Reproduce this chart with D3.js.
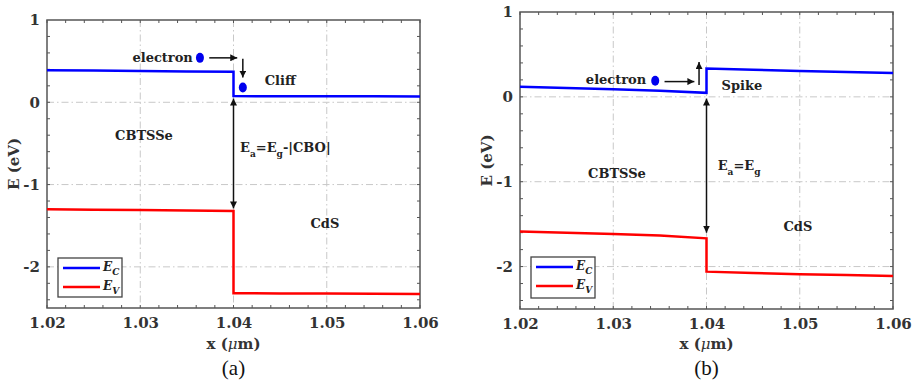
<!DOCTYPE html>
<html><head><meta charset="utf-8">
<script src="https://cdn.jsdelivr.net/npm/d3@7"></script>
<style>
html,body{margin:0;padding:0;background:#fff;}
svg{display:block;}
</style></head>
<body>
<svg id="c" width="918" height="384"></svg>
<script>
// ---- data ----
const xTicks = [1.02, 1.03, 1.04, 1.05, 1.06];
const yTicks = [1, 0, -1, -2];
const xPos = [1.02, 1.025, 1.03, 1.035, 1.04, 1.04, 1.045, 1.05, 1.055, 1.06];
// panel (a) - cliff
const ecA = [0.39, 0.385, 0.38, 0.375, 0.37, 0.075, 0.074, 0.073, 0.072, 0.07];
const evA = [-1.30, -1.305, -1.31, -1.315, -1.32, -2.32, -2.323, -2.325, -2.328, -2.33];
// panel (b) - spike
const ecB = [0.118, 0.105, 0.09, 0.072, 0.047, 0.333, 0.32, 0.306, 0.293, 0.28];
const evB = [-1.588, -1.60, -1.615, -1.635, -1.667, -2.06, -2.077, -2.09, -2.10, -2.11];
const seriesNames = ["C", "V"];
const panelLabels = ["(a)", "(b)"];

const svg = d3.select("#c");
const defs = svg.append("defs");
defs.append("marker").attr("id","ah").attr("viewBox","0 0 10 10").attr("refX",10).attr("refY",5)
  .attr("markerWidth",7).attr("markerHeight",7).attr("markerUnits","userSpaceOnUse").attr("orient","auto-start-reverse")
  .append("path").attr("d","M0,0 L10,5 L0,10 Z").attr("fill","#111");

const FONT = "'DejaVu Serif', serif";

const panels = [
  {box:{l:47,r:420,t:20,b:308}, ec:ecA, ev:evA, label:panelLabels[0], ylabX:14,
   legend:{x0:58,x1:122,y0:258,y1:297},
   ann:{elText:[1.0324,0.55], dot1:[1.0364,0.54], hArrow:[1.0374,1.0404,0.54],
        vArrow:[1.0410,0.53,0.30], dot2:[1.0410,0.18], word:"Cliff", wordPos:[1.0450,0.26],
        cb:[1.0304,-0.40], dbl:[1.04,0.045,-1.29], eqPos:[1.0407,-0.60], cbo:true, cds:[1.0498,-1.47]}},
  {box:{l:520,r:893,t:12,b:309}, ec:ecB, ev:evB, label:panelLabels[1], ylabX:487,
   legend:{x0:531,x1:595,y0:257,y1:298},
   ann:{elText:[1.0303,0.20], dot1:[1.0345,0.19], hArrow:[1.0355,1.0387,0.18],
        vArrow:[1.0392,0.14,0.41], dot2:null, word:"Spike", wordPos:[1.0438,0.13],
        cb:[1.0304,-0.90], dbl:[1.04,-0.02,-1.60], eqPos:[1.0412,-0.86], cbo:false, cds:[1.0498,-1.53]}}
];

panels.forEach(p => {
  const b = p.box;
  const x = d3.scaleLinear().domain([1.02,1.06]).range([b.l,b.r]);
  const y = d3.scaleLinear().domain([-2.5,1]).range([b.b,b.t]);
  const g = svg.append("g");

  // grid
  const dash = "7,3,1.5,3";
  g.selectAll(".gx").data(xTicks.slice(1,-1)).join("line")
    .attr("x1",d=>x(d)).attr("x2",d=>x(d)).attr("y1",b.t).attr("y2",b.b)
    .attr("stroke","#c8c8c8").attr("stroke-width",1).attr("stroke-dasharray",dash);
  g.selectAll(".gy").data(yTicks.slice(1)).join("line")
    .attr("y1",d=>y(d)).attr("y2",d=>y(d)).attr("x1",b.l).attr("x2",b.r)
    .attr("stroke","#c8c8c8").attr("stroke-width",1).attr("stroke-dasharray",dash);

  // minor ticks inside, all sides
  const xMin = d3.range(1.02,1.0601,0.002);
  const yMin = d3.range(-2.4,0.9999,0.2);
  const tk = g.append("g").attr("stroke","#555").attr("stroke-width",1);
  xMin.forEach(v=>{
    const L = 3;
    tk.append("line").attr("x1",x(v)).attr("x2",x(v)).attr("y1",b.b).attr("y2",b.b-L);
    tk.append("line").attr("x1",x(v)).attr("x2",x(v)).attr("y1",b.t).attr("y2",b.t+L);
  });
  yMin.forEach(v=>{
    const L = 3;
    tk.append("line").attr("y1",y(v)).attr("y2",y(v)).attr("x1",b.l).attr("x2",b.l+L);
    tk.append("line").attr("y1",y(v)).attr("y2",y(v)).attr("x1",b.r).attr("x2",b.r-L);
  });

  // axes (labels via d3 axes)
  const xa = g.append("g").attr("transform",`translate(0,${b.b})`)
    .call(d3.axisBottom(x).tickValues(xTicks).tickFormat(d3.format(".2f")).tickSize(0).tickPadding(9));
  const ya = g.append("g").attr("transform",`translate(${b.l},0)`)
    .call(d3.axisLeft(y).tickValues(yTicks).tickFormat(d=>String(d)).tickSize(0).tickPadding(7));
  [xa,ya].forEach(a=>{
    a.select(".domain").remove();
    a.selectAll("text").attr("font-family",FONT).attr("font-weight","bold").attr("font-size",15).attr("fill","#333");
  });

  // frame
  g.append("rect").attr("x",b.l).attr("y",b.t).attr("width",b.r-b.l).attr("height",b.b-b.t)
    .attr("fill","none").attr("stroke","#555").attr("stroke-width",1.5);

  // lines
  const line = d3.line().x((d,i)=>x(xPos[i])).y(d=>y(d));
  g.append("path").datum(p.ec).attr("d",line).attr("fill","none").attr("stroke","#0000ff").attr("stroke-width",2.5);
  g.append("path").datum(p.ev).attr("d",line).attr("fill","none").attr("stroke","#ff0000").attr("stroke-width",2.5);

  // axis titles
  const xt = g.append("text").attr("x",(b.l+b.r)/2).attr("y",349).attr("text-anchor","middle")
    .attr("font-family",FONT).attr("font-weight","bold").attr("font-size",15).attr("fill","#333");
  xt.append("tspan").text("x (");
  xt.append("tspan").attr("font-style","italic").attr("font-weight","normal").text("μ");
  xt.append("tspan").text("m)");
  g.append("text").attr("transform",`translate(${p.ylabX},${(b.t+b.b)/2}) rotate(-90)`)
    .attr("text-anchor","middle").attr("dominant-baseline","central")
    .attr("font-family",FONT).attr("font-weight","bold").attr("font-size",15).attr("fill","#333").text("E (eV)");
  g.append("text").attr("x",(b.l+b.r)/2).attr("y",375).attr("text-anchor","middle")
    .attr("font-family","'Liberation Serif', serif").attr("font-size",21).attr("fill","#111").text(p.label);

  // annotations
  const a = p.ann;
  const txt = (pos, s, anchor) => g.append("text").attr("x",x(pos[0])).attr("y",y(pos[1]))
    .attr("text-anchor",anchor||"middle").attr("dominant-baseline","central")
    .attr("font-family",FONT).attr("font-weight","bold").attr("font-size",13).attr("fill","#222").text(s);
  txt(a.elText,"electron");
  g.append("ellipse").attr("cx",x(a.dot1[0])).attr("cy",y(a.dot1[1])).attr("rx",4).attr("ry",5).attr("fill","#0000ee");
  if (a.dot2) g.append("ellipse").attr("cx",x(a.dot2[0])).attr("cy",y(a.dot2[1])).attr("rx",4).attr("ry",5).attr("fill","#0000ee");
  const arrow = (x1,y1,x2,y2,both) => {
    const l = g.append("line").attr("x1",x1).attr("y1",y1).attr("x2",x2).attr("y2",y2)
      .attr("stroke","#111").attr("stroke-width",1.5).attr("marker-end","url(#ah)");
    if (both) l.attr("marker-start","url(#ah)");
  };
  arrow(x(a.hArrow[0]),y(a.hArrow[2]),x(a.hArrow[1]),y(a.hArrow[2]));
  arrow(x(a.vArrow[0]),y(a.vArrow[1]),x(a.vArrow[0]),y(a.vArrow[2]));
  arrow(x(a.dbl[0]),y(a.dbl[1]),x(a.dbl[0]),y(a.dbl[2]),true);
  txt(a.wordPos,a.word);
  txt(a.cb,"CBTSSe");
  txt(a.cds,"CdS");
  const eq = g.append("text").attr("x",x(a.eqPos[0])).attr("y",y(a.eqPos[1]))
    .attr("font-family",FONT).attr("font-weight","bold").attr("font-size",13).attr("fill","#222");
  eq.append("tspan").text("E");
  eq.append("tspan").attr("font-size",9).attr("dy",5).text("a");
  eq.append("tspan").attr("dy",-5).text("=E");
  eq.append("tspan").attr("font-size",9).attr("dy",5).text("g");
  if (a.cbo) eq.append("tspan").attr("dy",-5).text("-|CBO|");

  // legend
  const L = p.legend;
  g.append("rect").attr("x",L.x0).attr("y",L.y0).attr("width",L.x1-L.x0).attr("height",L.y1-L.y0)
    .attr("fill","#fff").attr("stroke","#444").attr("stroke-width",1.3);
  const cols = ["#0000ff","#ff0000"];
  seriesNames.forEach((s,i)=>{
    const yy = L.y0 + 10 + i*19;
    g.append("line").attr("x1",L.x0+5).attr("x2",L.x0+42).attr("y1",yy).attr("y2",yy)
      .attr("stroke",cols[i]).attr("stroke-width",2.5);
    const t = g.append("text").attr("x",L.x0+45).attr("y",yy+3)
      .attr("font-family",FONT).attr("font-weight","bold").attr("font-style","italic").attr("font-size",12).attr("fill","#222");
    t.append("tspan").text("E");
    t.append("tspan").attr("font-size",9).attr("dy",4).text(s);
  });
});
</script>
</body></html>
